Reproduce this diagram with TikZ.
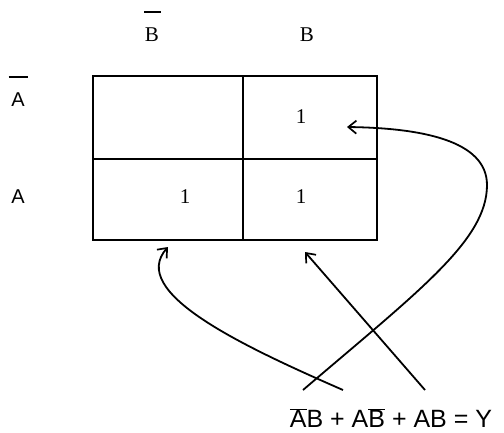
\documentclass[tikz,border=0pt]{standalone}
\usepackage{fontspec}
\setmainfont{Liberation Serif}
\newfontfamily\eqfont{Liberation Sans}
\usetikzlibrary{arrows.meta}

\begin{document}
\begin{tikzpicture}[x=1pt,y=-1pt,line width=1.7pt,
  >={Straight Barb[length=8pt,width=13pt,line width=1.7pt]},
  lbl/.style={inner sep=0pt,font=\fontsize{21}{24}\selectfont},
  rowlbl/.style={inner sep=0pt,font=\eqfont\fontsize{20}{24}\selectfont},
  one/.style={inner sep=0pt,font=\fontsize{21}{24}\selectfont},
  conn/.style={->,line width=1.8pt}]
\useasboundingbox (0,0) rectangle (504,432);
% map
\draw (93,76) rectangle (377,240);
\draw (243,76) -- (243,240);
\draw (93,159) -- (377,159);
% labels
\node[lbl] (nB) at (152,35) {B};
\node[lbl] (B) at (307,35) {B};
\node[rowlbl] (nA) at (18,100) {A};
\node[rowlbl] (A) at (18,197) {A};
\draw[line width=1.5pt] ([shift={(-8,-23)}]nB.center) -- ++(17,0);
\draw[line width=1.5pt] ([shift={(-9.5,-23)}]nA.center) -- ++(19,0);
% ones
\node[one] (c01) at (301,117) {1};
\node[one] (c10) at (185,197) {1};
\node[one] (c11) at (301,197) {1};
% expression
\node[inner sep=0pt,font=\eqfont\fontsize{25}{30}\selectfont] (Y) at (391,418)
  {$\overline{\mbox{A}}$B + A$\overline{\mbox{B}}$ + AB = Y};
\coordinate (s1) at (303,390);
\coordinate (s2) at (343,390);
\coordinate (s3) at (425,390);
\coordinate (t1) at (347,127);
\coordinate (t2) at (168,247);
\coordinate (t3) at (305,252);
\draw[conn] (s1) .. controls (420,290) and (487,240) .. (487,185)
  .. controls (487,140) and (420,128) .. (t1);
\draw[conn] (s2) .. controls (240,345) and (128,292) .. (t2);
\draw[conn] (s3) -- (t3);
\end{tikzpicture}
\end{document}
